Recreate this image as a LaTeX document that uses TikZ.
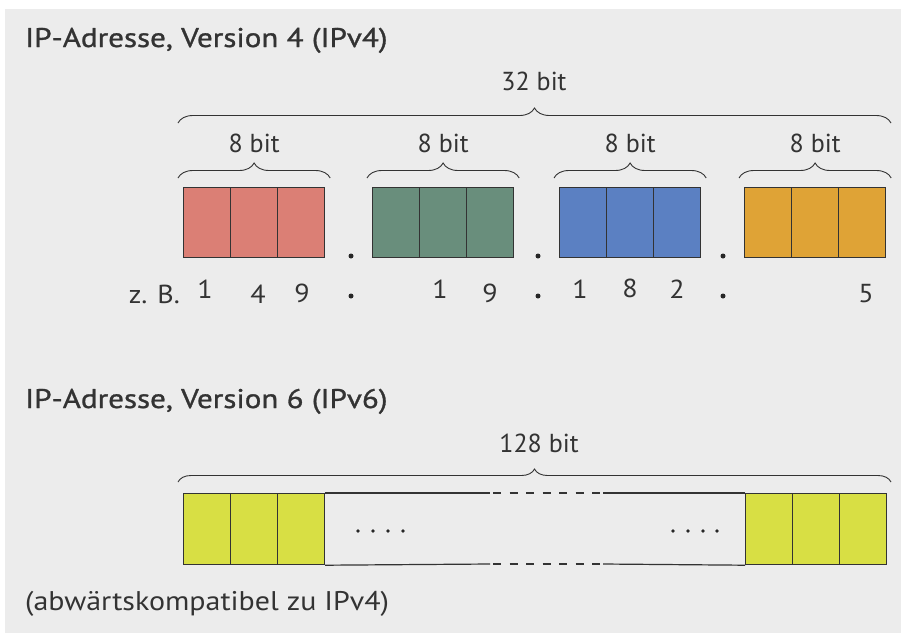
\documentclass[tikz,border=0pt]{standalone}
\usepackage{fontspec}
\setmainfont{PT Sans}
\newfontfamily\headfont[FakeBold=1.1,FakeStretch=1.15]{PT Sans}
\newfontfamily\notefont[FakeStretch=1.11]{PT Sans}
\newfontfamily\rowfont[FakeStretch=1.08]{PT Sans}
\usetikzlibrary{decorations.pathreplacing}

\definecolor{panel}{HTML}{ECECEC}
\definecolor{ink}{HTML}{333333}
\definecolor{cellred}{HTML}{DB7F75}
\definecolor{cellgreen}{HTML}{698E7C}
\definecolor{cellblue}{HTML}{5B80C2}
\definecolor{cellorange}{HTML}{DFA336}
\definecolor{cellyellow}{HTML}{D8DF44}

\begin{document}
\begin{tikzpicture}[x=1pt,y=-1pt,
  every node/.style={inner sep=0pt, text=ink},
  heading/.style={anchor=base west, font=\headfont\fontsize{27}{32}\selectfont},
  note/.style={anchor=base west, font=\notefont\fontsize{27}{32}\selectfont},
  bitlabel/.style={anchor=base, font=\fontsize{26}{31}\selectfont},
  digit/.style={anchor=base, font=\rowfont\fontsize{26}{31}\selectfont},
  cell/.style={draw=ink, line width=1.2pt, minimum width=47pt, minimum height=70pt, anchor=north west},
  sepdot/.style={circle, fill=black!85, minimum size=5pt},
  smalldot/.style={circle, fill=black!85, minimum size=3.6pt},
  bracket/.style={draw=ink, line width=0.9pt, decorate, decoration={brace, amplitude=#1}},
  frameline/.style={draw=ink, line width=1.2pt}
]
\useasboundingbox (0,0) rectangle (901,635);
\fill[white] (0,0) rectangle (901,635);
\fill[panel] (5,9) rectangle (901,633);

% ---------- IPv4 ----------
\node[heading] (h4) at (25,47) {IP-Adresse, Version 4 (IPv4)};

% four bytes of three cells each
\foreach \bx/\col/\nm in {183/cellred/a, 372/cellgreen/b, 559/cellblue/c, 744/cellorange/d}{
  \foreach \i in {0,1,2}{
    \node[cell, fill=\col] (\nm\i) at ({\bx+47*\i},187) {};
  }
}

% byte braces and labels
\foreach \nm in {a,b,c,d}{
  \coordinate (\nm L) at ([xshift=-5pt,yshift=9pt]\nm0.north west);
  \coordinate (\nm R) at ([xshift=5pt,yshift=9pt]\nm2.north east);
  \draw[bracket=15pt] (\nm L) -- (\nm R);
  \node[bitlabel] (\nm lab) at ([yshift=35pt]\nm1.north) {8 bit};
}

% whole address brace
\coordinate (allL) at (178,123);
\coordinate (allR) at (891,123);
\draw[bracket=15pt] (allL) -- (allR);
\node[bitlabel] (lab32) at (534,90) {32 bit};

% separators between bytes
\foreach \x/\nm in {351/p, 538/q, 723/r}{
  \node[sepdot] (\nm1) at (\x,256) {};
  \node[sepdot] (\nm2) at (\x,296) {};
}

% example address 149.19.182.5
\node[anchor=base east, font=\rowfont\fontsize{26}{31}\selectfont] (zb) at (180,303) {z. B.};
\node[digit] (n1) at (205,298) {1};
\node[digit] (n2) at (258,303) {4};
\node[digit] (n3) at (302,302) {9};
\node[digit] (n4) at (440,298) {1};
\node[digit] (n5) at (490,302) {9};
\node[digit] (n6) at (580,298) {1};
\node[digit] (n7) at (630,297) {8};
\node[digit] (n8) at (677,298) {2};
\node[digit] (n9) at (866,302) {5};

% ---------- IPv6 ----------
\node[heading] (h6) at (25,408) {IP-Adresse, Version 6 (IPv6)};

\foreach \i in {0,1,2}{
  \node[cell, fill=cellyellow, minimum height=71pt] (y\i) at ({183+47*\i},493) {};
  \node[cell, fill=cellyellow, minimum height=71pt] (z\i) at ({745+47*\i},493) {};
}

% open middle part: solid, dashed, solid
\coordinate (t1) at (490,493); \coordinate (t2) at (493,493);
\coordinate (t3) at (601,493); \coordinate (t4) at (603,493);
\coordinate (b1) at (490,564); \coordinate (b2) at (493,564);
\coordinate (b3) at (601,564); \coordinate (b4) at (603,564);
\draw[frameline] (y2.north east) -- (t1) (t4) -- (z0.north west);
\draw[frameline] (y2.south east) -- (b1) (b4) -- (z0.south west);
\draw[frameline, dash pattern=on 8pt off 8.5pt] (t2) -- (t3) (b2) -- (b3);

% ellipses
\foreach \x [count=\k] in {358,373,388,403}{ \node[smalldot] (e\k) at (\x,531) {}; }
\foreach \x [count=\k] in {673,688,703,717}{ \node[smalldot] (f\k) at (\x,531) {}; }

\coordinate (sixL) at (178,482);
\coordinate (sixR) at (891,482);
\draw[bracket=13pt] (sixL) -- (sixR);
\node[bitlabel] (lab128) at (539,452) {128 bit};

\node[note] (compat) at (25,610) {(abwärtskompatibel zu IPv4)};
\end{tikzpicture}
\end{document}
